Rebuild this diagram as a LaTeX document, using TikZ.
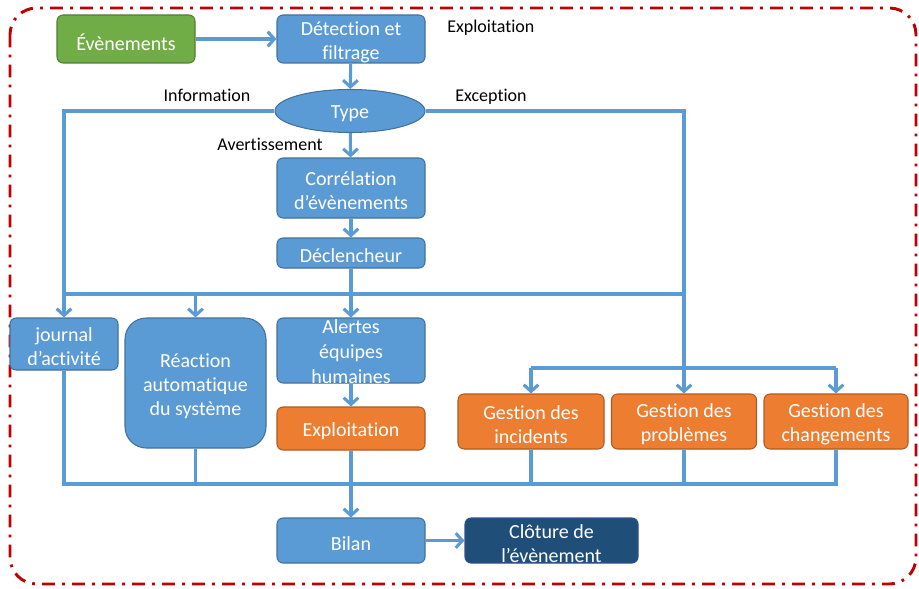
\documentclass[tikz,border=0pt]{standalone}
\usepackage{fontspec}
\setmainfont{Carlito}[Ligatures=NoCommon]
\usetikzlibrary{arrows.meta,shapes.geometric}
\definecolor{cblue}{HTML}{5B9BD5}
\definecolor{cbluedk}{HTML}{41719C}
\definecolor{cgreen}{HTML}{70AD47}
\definecolor{cgreendk}{HTML}{507E32}
\definecolor{corange}{HTML}{ED7D31}
\definecolor{corangedk}{HTML}{AE5A21}
\definecolor{cnavy}{HTML}{1F4E79}
\definecolor{cnavydk}{HTML}{2F528F}
\definecolor{cframe}{HTML}{C00000}
\tikzset{
  boxtext/.style={text=white, align=center, inner sep=0pt, yshift=-2.2pt,
    font=\fontsize{15pt}{18pt}\selectfont},
  boxbase/.style={rounded corners=4.5pt, line width=0.8pt, inner sep=0pt},
  txt/.style={label={[boxtext]center:#1}},
  bluebox/.style={boxbase, fill=cblue, draw=cbluedk},
  greenbox/.style={boxbase, fill=cgreen, draw=cgreendk},
  orangebox/.style={boxbase, fill=corange, draw=corangedk},
  navybox/.style={boxbase, fill=cnavy, draw=cnavydk},
  lbl/.style={text=black, inner sep=0pt, font=\fontsize{13.5pt}{15pt}\selectfont},
  wire/.style={draw=cblue, line width=2.3pt},
  conn/.style={wire, -{Straight Barb[length=5pt,width=11pt]}},
  frame/.style={draw=cframe, line width=2.2pt, rounded corners=20pt,
    dash pattern=on 9.5pt off 5.5pt on 2pt off 5.5pt}
}
\begin{document}
\begin{tikzpicture}[x=0.75pt,y=-0.75pt]
\useasboundingbox (0,0) rectangle (919,588);
\draw[frame] (10,8) rectangle (916,584);

% nodes
\node[greenbox, minimum width=103.5pt, minimum height=36pt, txt={Évènements}] (ev) at (126,39) {};
\node[bluebox, minimum width=111pt, minimum height=36pt, txt={Détection et\\filtrage}] (det) at (351,39) {};
\node[lbl, anchor=west] (lexp) at (447,28) {Exploitation};
\node[ellipse, fill=cblue, draw=cbluedk, line width=0.8pt, inner sep=0pt,
  minimum width=112.5pt, minimum height=32.25pt, txt={Type}] (type) at (350,111) {};
\node[lbl] (linfo) at (207,95) {Information};
\node[lbl] (lexc) at (491,97) {Exception};
\node[lbl] (lavert) at (270,144) {Avertissement};
\node[bluebox, minimum width=111pt, minimum height=45pt, txt={Corrélation\\d’évènements}] (corr) at (351,188) {};
\node[bluebox, minimum width=111pt, minimum height=22.5pt, txt={Déclencheur}] (decl) at (351,253) {};
\node[bluebox, minimum width=81pt, minimum height=39pt, txt={journal\\d’activité}] (journal) at (64,344) {};
\node[bluebox, rounded corners=16pt, minimum width=105.75pt, minimum height=97.5pt,
  txt={Réaction\\automatique\\du système}] (reac) at (195.5,383) {};
\node[bluebox, minimum width=111pt, minimum height=48.75pt] (alert) at (351,350.5) {};
\node[orangebox, minimum width=111pt, minimum height=32.25pt, txt={Exploitation}] (expl) at (351,428.5) {};
\node[orangebox, minimum width=109.5pt, minimum height=41.25pt, txt={Gestion des\\incidents}] (gi) at (531,421.5) {};
\node[orangebox, minimum width=108.75pt, minimum height=41.25pt, txt={Gestion des\\problèmes}] (gp) at (684,421.5) {};
\node[orangebox, minimum width=108pt, minimum height=41.25pt, txt={Gestion des\\changements}] (gc) at (836,421.5) {};
\node[bluebox, minimum width=111pt, minimum height=33.75pt, txt={Bilan}] (bilan) at (351,540.5) {};
\node[navybox, minimum width=129.75pt, minimum height=33.75pt, txt={Clôture de\\l’évènement}] (clot) at (551.5,540.5) {};

% helper coordinates
\coordinate (h) at (0,294);
\coordinate (g) at (0,368);
\coordinate (b) at (0,484);

% connectors
\draw[conn] (ev) -- (det);
\draw[conn] (det) -- (type);
\draw[conn] (type.west) -| (journal.north);
\draw[conn] (type.east) -| (gp.north);
\draw[conn] (type) -- (corr);
\draw[conn] (corr) -- (decl);
\draw[conn] (decl) -- (alert);
\draw[wire] (journal.north |- h) -- (gp.north |- h);
\draw[conn] (reac.north |- h) -- (reac.north);
\draw[wire] (gi.north |- g) -- (gc.north |- g);
\draw[conn] (gi.north |- g) -- (gi.north);
\draw[conn] (gc.north |- g) -- (gc.north);
\draw[conn] (alert) -- (expl);
\draw[wire] (journal.south) -- (journal.south |- b) -- (gc.south |- b) -- (gc.south);
\draw[wire] (reac.south) -- (reac.south |- b);
\draw[wire] (gi.south) -- (gi.south |- b);
\draw[wire] (gp.south) -- (gp.south |- b);
\draw[conn] (expl) -- (bilan);
\draw[conn] (bilan) -- (clot);

% text of the alert box, on top of its outline
\node[boxtext, font=\fontsize{15pt}{18.75pt}\selectfont] (alerttxt) at (351,349) {Alertes\\équipes\\humaines};
\end{tikzpicture}
\end{document}
